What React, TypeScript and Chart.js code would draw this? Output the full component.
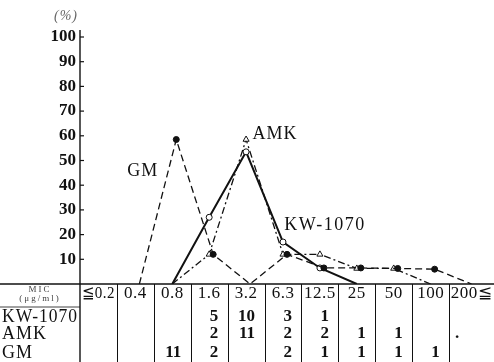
import React, { useEffect, useRef } from 'react';
import { Chart, registerables } from 'chart.js';

Chart.register(...registerables);

// MIC categories (μg/ml)
const categories = ['≦0.2', '0.4', '0.8', '1.6', '3.2', '6.3', '12.5', '25', '50', '100', '200≦'];

// Percent of strains
const kwPercent = [null, null, 0, 27, 53.5, 17, 6.5, 0, null, null, null];
const amkPercent = [null, null, 0, 12, 58.5, 12, 12, 6.3, 6.3, 0, null];
const gmPercent = [null, 0, 58.5, 12, 0, 12, 6.5, 6.5, 6.3, 6, 0];

// Number of strains per MIC (table rows)
const kwCounts = ['', '', '', '5', '10', '3', '1', '', '', '', ''];
const amkCounts = ['', '', '', '2', '11', '2', '2', '1', '1', '', '.'];
const gmCounts = ['', '', '11', '2', '', '2', '1', '1', '1', '1', ''];

const rowNames = ['KW-1070', 'AMK', 'GM'];
const yTicks = [10, 20, 30, 40, 50, 60, 70, 80, 90, 100];

const SERIF = '"Liberation Serif", "DejaVu Serif", serif';
const INK = '#111';

const tablePlugin = {
  id: 'micTable',
  beforeDatasetDraw(chart: any, args: any) {
    if (args.meta.label === 'GM') {
      chart.ctx.save();
      chart.ctx.translate(4, 0);
    }
  },
  afterDatasetDraw(chart: any, args: any) {
    if (args.meta.label === 'GM') chart.ctx.restore();
  },
  afterDraw(chart: any) {
    const { ctx, chartArea, scales } = chart;
    const xs = scales.x;
    const ys = scales.y;
    const left = chartArea.left;
    const right = chartArea.right;
    const bottom = chartArea.bottom;
    const W = chart.width;
    const H = chart.height;
    const n = categories.length;
    const colW = (right - left) / n;
    const line = (x1: number, y1: number, x2: number, y2: number) => {
      ctx.beginPath();
      ctx.moveTo(x1, y1);
      ctx.lineTo(x2, y2);
      ctx.stroke();
    };
    ctx.save();
    ctx.strokeStyle = INK;
    ctx.fillStyle = INK;

    // baseline / table top
    ctx.lineWidth = 1.6;
    line(0, bottom, W, bottom);
    // y axis line (extends through table)
    ctx.lineWidth = 1.4;
    line(left, ys.getPixelForValue(100) - 7, left, H);
    // tick marks (inside)
    ctx.lineWidth = 1.2;
    yTicks.forEach((v) => {
      const py = ys.getPixelForValue(v);
      line(left, py, left + 4, py);
    });
    // column separators
    ctx.lineWidth = 1;
    for (let i = 1; i < n; i++) {
      const px = Math.round(left + i * colW) + 0.5;
      line(px, bottom, px, H);
    }
    // underline of MIC header cell
    ctx.lineWidth = 0.8;
    line(0, bottom + 23, left, bottom + 23);

    // (%) unit
    ctx.font = `italic 14px ${SERIF}`;
    ctx.fillStyle = '#666';
    ctx.textAlign = 'center';
    ctx.textBaseline = 'middle';
    (ctx as any).letterSpacing = '1px';
    ctx.fillText('(%)', left - 14, ys.getPixelForValue(100) - 21);

    // MIC header
    ctx.fillStyle = '#444';
    ctx.font = `9px ${SERIF}`;
    (ctx as any).letterSpacing = '2px';
    ctx.fillText('MIC', left / 2, bottom + 6);
    ctx.fillText('(μg/ml)', left / 2, bottom + 15);

    // header categories
    ctx.fillStyle = INK;
    ctx.font = `17px ${SERIF}`;
    (ctx as any).letterSpacing = '0.5px';
    categories.forEach((c, i) => {
      if (i === n - 1) {
        const x0 = left + i * colW;
        ctx.fillText(c, (x0 + W) / 2, bottom + 10, W - x0 - 3);
      } else {
        ctx.fillText(c, left + (i + 0.5) * colW, bottom + 10, colW - 4);
      }
    });

    // row names
    const rowY = [bottom + 33, bottom + 50, bottom + 69];
    ctx.textAlign = 'left';
    ctx.font = `18px ${SERIF}`;
    (ctx as any).letterSpacing = '1px';
    rowNames.forEach((name, r) => ctx.fillText(name, 2, rowY[r], left - 4));

    // counts
    (ctx as any).letterSpacing = '0px';
    ctx.font = `bold 17px ${SERIF}`;
    [kwCounts, amkCounts, gmCounts].forEach((row, r) => {
      row.forEach((t, i) => {
        if (!t) return;
        if (t === '.') {
          ctx.textAlign = 'left';
          ctx.fillText(t, left + i * colW + 6, rowY[r]);
        } else {
          ctx.textAlign = 'right';
          ctx.fillText(t, left + (i + 0.5) * colW + 9, rowY[r]);
        }
      });
    });

    // series labels
    ctx.textAlign = 'center';
    ctx.font = `18px ${SERIF}`;
    (ctx as any).letterSpacing = '1px';
    ctx.fillText('GM', xs.getPixelForValue(1.2), ys.getPixelForValue(45.7));
    ctx.fillText('AMK', xs.getPixelForValue(4.78), ys.getPixelForValue(60.7));
    (ctx as any).letterSpacing = '1.5px';
    ctx.fillText('KW-1070', xs.getPixelForValue(6.14), ys.getPixelForValue(23.9));
    ctx.restore();
  },
};

const markerRadius = (r: number) => (c: any) => (c.raw === 0 || c.raw === null ? 0 : r);

export default function App() {
  const ref = useRef<HTMLCanvasElement | null>(null);
  useEffect(() => {
    document.body.style.margin = '0';
    const chart = new Chart(ref.current as HTMLCanvasElement, {
      type: 'line',
      data: {
        labels: categories,
        datasets: [
          {
            label: 'GM',
            data: gmPercent as any,
            borderColor: INK,
            borderWidth: 1.3,
            borderDash: [7, 4],
            pointStyle: 'circle',
            pointRadius: markerRadius(3),
            pointBackgroundColor: INK,
            pointBorderColor: INK,
            pointBorderWidth: 1,
            tension: 0,
          },
          {
            label: 'KW-1070',
            data: kwPercent as any,
            borderColor: INK,
            borderWidth: 2,
            pointStyle: 'circle',
            pointRadius: markerRadius(3),
            pointBackgroundColor: '#fff',
            pointBorderColor: INK,
            pointBorderWidth: 1,
            tension: 0,
          },
          {
            label: 'AMK',
            data: amkPercent as any,
            borderColor: INK,
            borderWidth: 1.3,
            borderDash: [7, 3, 2, 3],
            pointStyle: 'triangle',
            pointRadius: markerRadius(3.5),
            pointBackgroundColor: '#fff',
            pointBorderColor: INK,
            pointBorderWidth: 1,
            tension: 0,
          },
        ],
      },
      options: {
        responsive: false,
        animation: false,
        devicePixelRatio: 1,
        layout: { padding: { top: 37, bottom: 78, left: 0, right: 8 } },
        plugins: { legend: { display: false }, tooltip: { enabled: false } },
        scales: {
          x: { display: false, offset: true },
          y: {
            min: 0,
            max: 100,
            afterFit: (s: any) => {
              s.width = 80;
            },
            grid: { display: false, drawTicks: false },
            border: { display: false },
            ticks: {
              stepSize: 10,
              padding: 4,
              color: INK,
              font: { family: SERIF, size: 17, weight: 'bold' },
              callback: (v: any) => (v === 0 ? '' : String(v)),
            },
          },
        },
      },
      plugins: [tablePlugin],
    });
    return () => chart.destroy();
  }, []);
  return (
    <div style={{ position: 'absolute', left: 0, top: 0, width: 494, height: 362 }}>
      <canvas ref={ref} width={494} height={362} style={{ display: 'block' }} />
    </div>
  );
}
